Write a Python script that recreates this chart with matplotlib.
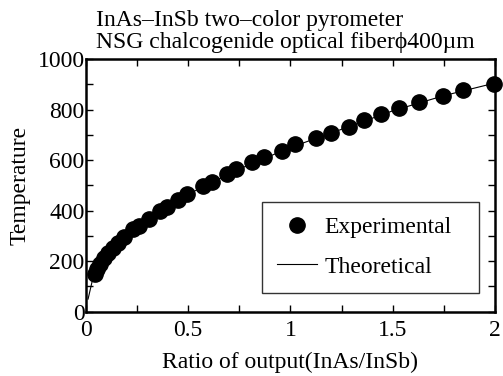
import matplotlib
matplotlib.use("Agg")
import matplotlib.pyplot as plt
from matplotlib.ticker import MultipleLocator

plt.rcParams['font.family'] = ['Liberation Serif', 'DejaVu Serif']

# Experimental data (ratio InAs/InSb, temperature)
exp_ratio = [0.044, 0.052, 0.068, 0.088, 0.109, 0.131, 0.155, 0.187, 0.231, 0.261,
             0.308, 0.362, 0.398, 0.451, 0.495, 0.571, 0.615, 0.688, 0.733, 0.810,
             0.870, 0.957, 1.023, 1.125, 1.198, 1.286, 1.361, 1.441, 1.530, 1.630,
             1.747, 1.845, 1.995]
exp_temp = [148, 169, 189, 211, 231, 251, 271, 297, 326, 339,
            366, 400, 416, 442, 466, 497, 514, 545, 563, 591,
            611, 637, 664, 689, 708, 732, 758, 782, 807, 831,
            855, 877, 902]

# Theoretical curve
theo_ratio = [0.01, 0.03, 0.05, 0.1, 0.2, 0.3, 0.5, 0.75, 1.0, 1.25, 1.5, 1.75, 2.0]
theo_temp = [50, 120, 160, 225, 305, 365, 465, 565, 650, 722, 795, 855, 905]

xticks = [0, 0.5, 1, 1.5, 2]
xticklabels = ['0', '0.5', '1', '1.5', '2']
yticks = [0, 200, 400, 600, 800, 1000]

FS = 17

fig = plt.figure(figsize=(5.03, 3.76), dpi=100)
ax = fig.add_axes([0.171, 0.171, 0.813, 0.672])

ax.plot(theo_ratio, theo_temp, color='black', lw=0.8, label='Theoretical', zorder=2)
ax.plot(exp_ratio, exp_temp, linestyle='none', marker='o', ms=11, color='black',
        label='Experimental', zorder=3, clip_on=False)

ax.set_xlim(0, 2)
ax.set_ylim(0, 1000)
ax.set_xticks(xticks)
ax.set_xticklabels(xticklabels)
ax.set_yticks(yticks)
ax.xaxis.set_minor_locator(MultipleLocator(0.25))
ax.yaxis.set_minor_locator(MultipleLocator(100))
ax.tick_params(which='both', direction='in', top=True, right=True, length=5, width=1,
               labelsize=FS, pad=1)
ax.tick_params(axis='x', which='major', pad=6)
for s in ax.spines.values():
    s.set_linewidth(1.8)

ax.set_xlabel('Ratio of output(InAs/InSb)', fontsize=FS, labelpad=8)
ax.set_ylabel('Temperature', fontsize=FS, labelpad=5)

fig.text(0.19, 0.945, 'InAs\u2013InSb two\u2013color pyrometer', fontsize=FS, ha='left', va='center')
fig.text(0.19, 0.887, 'NSG chalcogenide optical fiber\u03d5400\u00b5m', fontsize=FS, ha='left', va='center')

handles, labels = ax.get_legend_handles_labels()
leg = ax.legend([handles[1], handles[0]], [labels[1], labels[0]],
                loc='lower left', bbox_to_anchor=(0.43, 0.074, 0.531, 0.376), mode='expand',
                fontsize=FS, frameon=True, fancybox=False, edgecolor='black',
                borderaxespad=0, handlelength=1.7, labelspacing=0.75, borderpad=0.65,
                handletextpad=0.3)
leg.get_frame().set_linewidth(1.0)

fig.savefig('out.png', dpi=100)
